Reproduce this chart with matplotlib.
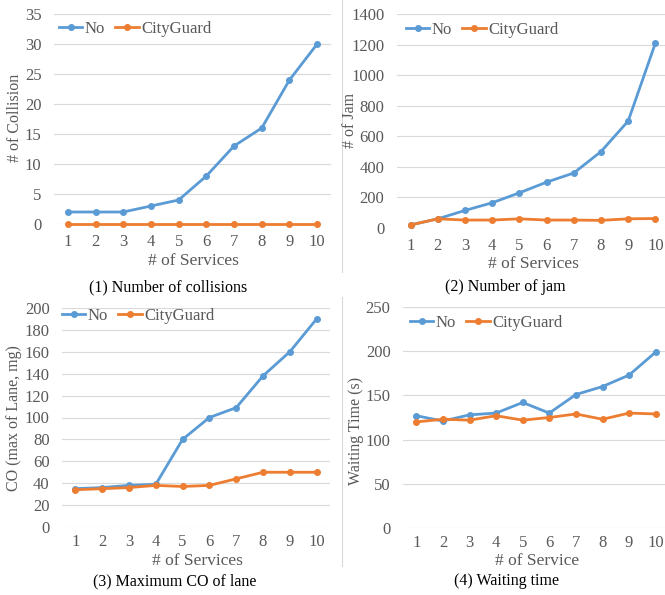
import matplotlib
matplotlib.use("Agg")
import matplotlib.pyplot as plt
from matplotlib.lines import Line2D

plt.rcParams['font.family'] = ['Liberation Serif', 'DejaVu Serif']

W, H = 665, 595

services = [1, 2, 3, 4, 5, 6, 7, 8, 9, 10]

coll_no = [2, 2, 2, 3, 4, 8, 13, 16, 24, 30]
coll_cg = [0, 0, 0, 0, 0, 0, 0, 0, 0, 0]

jam_no = [20, 60, 115, 165, 230, 300, 360, 500, 700, 1210]
jam_cg = [20, 60, 52, 52, 60, 52, 52, 50, 60, 62]

co_no = [35, 36, 38, 39, 80, 100, 109, 138, 160, 190]
co_cg = [34, 35, 36, 38, 37, 38, 44, 50, 50, 50]

wait_no = [127, 121, 128, 130, 142, 130, 151, 160, 173, 199]
wait_cg = [120, 123, 122, 127, 122, 125, 129, 123, 130, 129]

BLUE = '#5B9BD5'
ORANGE = '#ED7D31'
GRID = '#D9D9D9'
TXT = '#595959'

fig = plt.figure(figsize=(W / 100, H / 100), dpi=100)


def px_axes(left, right, top, bottom):
    return fig.add_axes([left / W, 1 - bottom / H, (right - left) / W, (bottom - top) / H])


def fx(x):
    return x / W


def fy(y):
    return 1 - y / H


def panel(box, no, cg, ymax, ystep, ylabel, ylab_xy, xlabel, xlab_xy, caption, cap_xy, leg_xy, xpad):
    ax = px_axes(*box)
    ax.plot(services, no, color=BLUE, lw=2, marker='o', ms=4, clip_on=False, zorder=3)
    ax.plot(services, cg, color=ORANGE, lw=2, marker='o', ms=4, clip_on=False, zorder=3)
    ax.set_xlim(0.5, 10.5)
    ax.set_ylim(0, ymax)
    ax.set_yticks(range(0, ymax + 1, ystep))
    ax.set_xticks(services)
    for s in ax.spines.values():
        s.set_visible(False)
    ax.grid(axis='y', color=GRID, lw=0.8)
    ax.set_axisbelow(True)
    ax.tick_params(length=0, labelsize=12, labelcolor=TXT)
    ax.tick_params(axis='y', pad=9)
    ax.tick_params(axis='x', pad=xpad)
    fig.text(fx(ylab_xy[0]), fy(ylab_xy[1]), ylabel, rotation=90, ha='center', va='center',
             fontsize=11.5, color=TXT)
    fig.text(fx(xlab_xy[0]), fy(xlab_xy[1]), xlabel, ha='center', va='center', fontsize=12.5, color=TXT)
    fig.text(fx(cap_xy[0]), fy(cap_xy[1]), caption, ha='center', va='center', fontsize=11.5, color='black')
    handles = [Line2D([], [], color=BLUE, lw=2, marker='o', ms=4),
               Line2D([], [], color=ORANGE, lw=2, marker='o', ms=4)]
    fig.legend(handles, ['No', 'CityGuard'], loc='center left',
               bbox_to_anchor=(fx(leg_xy[0]), fy(leg_xy[1])), ncol=2, frameon=False,
               fontsize=12, handlelength=1.4, handletextpad=0.15, columnspacing=0.6,
               borderaxespad=0, borderpad=0, labelcolor=TXT)
    return ax


panel((54, 331, 14, 224), coll_no, coll_cg, 35, 5, '# of Collision', (15, 118),
      '# of Services', (193, 261), '(1) Number of collisions', (168, 287), (59, 29), 7)
panel((397, 669, 14, 228), jam_no, jam_cg, 1400, 200, '# of Jam', (350, 120),
      '# of Services', (533, 264), '(2) Number of jam', (505, 287), (406, 30), 7)
panel((62, 330, 308, 527), co_no, co_cg, 200, 20, 'CO (max of Lane, mg)', (14, 418),
      '# of Services', (197, 561), '(3) Maximum CO of lane', (175, 581), (62, 316), 5)
panel((403, 669, 307, 528), wait_no, wait_cg, 250, 50, 'Waiting Time (s)', (356, 431),
      '# of Service', (537, 561), '(4) Waiting time', (507, 581), (410, 323), 5)

# thin divider lines between the columns
fig.add_artist(Line2D([fx(342), fx(342)], [fy(0), fy(272)], color=GRID, lw=0.8))
fig.add_artist(Line2D([fx(342), fx(342)], [fy(297), fy(566)], color=GRID, lw=0.8))

fig.savefig('out.png', dpi=100)
